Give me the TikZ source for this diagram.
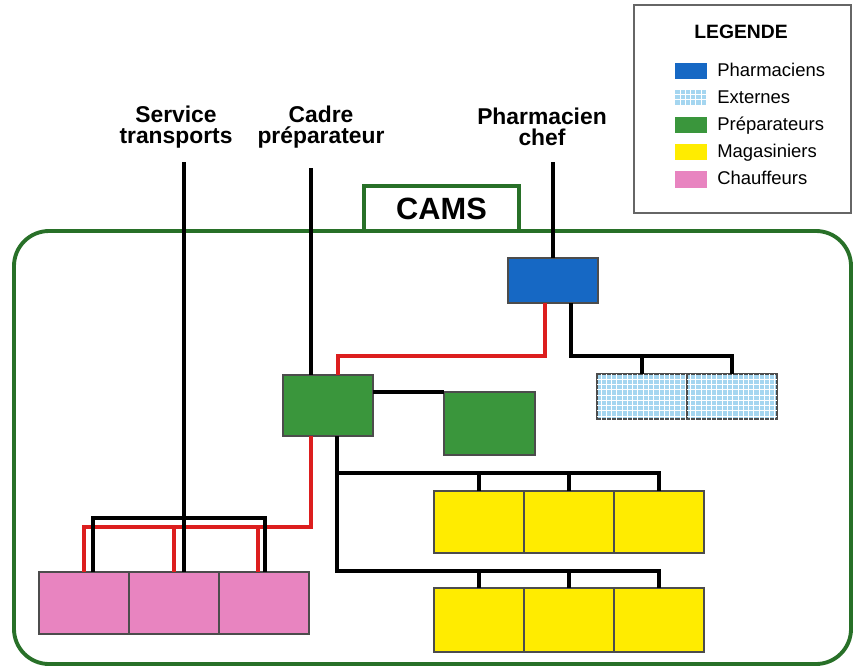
\documentclass[tikz,border=0pt]{standalone}
\usepackage{fontspec}
\setmainfont{Liberation Sans}
\usetikzlibrary{positioning,calc,patterns}
\definecolor{pharmablue}{RGB}{22,104,196}
\definecolor{externblue}{RGB}{165,214,240}
\definecolor{prepgreen}{RGB}{58,150,60}
\definecolor{magyellow}{RGB}{255,236,0}
\definecolor{chaufpink}{RGB}{232,132,192}
\definecolor{linkred}{RGB}{220,30,30}
\definecolor{framegreen}{RGB}{40,112,40}

\begin{document}
\begin{tikzpicture}[
    x=0.02cm, y=-0.02cm,
    cell/.style={rectangle, draw=black!70, line width=0.7pt, outer sep=0pt,
        inner sep=0pt, minimum width=1.8cm, minimum height=1.24cm},
    pharma/.style={cell, fill=pharmablue, minimum height=0.9cm},
    externe/.style={cell, fill=externblue, minimum height=0.9cm,
        postaction={pattern=grid, pattern color=white}},
    prep/.style={cell, fill=prepgreen},
    mag/.style={cell, fill=magyellow},
    chauf/.style={cell, fill=chaufpink},
    head/.style={font=\bfseries\fontsize{13}{12}\selectfont, align=center},
    link/.style={line width=2pt, black},
    redlink/.style={line width=2pt, linkred},
    swatch/.style={minimum width=0.64cm, minimum height=0.34cm,
        inner sep=0pt, outer sep=0pt},
    legtext/.style={font=\fontsize{10.5}{12}\selectfont, anchor=mid west,
        inner sep=0pt}
]
    \useasboundingbox (0,0) rectangle (854,669);

    % CAMS frame
    \draw[framegreen, line width=2.2pt, rounded corners=0.7cm] (14,231) rectangle (851,664);
    \node[draw=framegreen, line width=2.2pt, fill=white, minimum width=3.1cm,
        minimum height=0.9cm, font=\bfseries\fontsize{17.5}{20}\selectfont] (cams) at (441.5,208.5) {CAMS};

    % heads
    \node[head] (service) at (176,127) {Service\\transports};
    \node[head] (cadre) at (321,127) {Cadre\\préparateur};
    \node[head] (chefhead) at (542,127) {Pharmacien\\chef};
    \coordinate (serviceTop) at (184,162);
    \coordinate (cadreTop) at (311,168);
    \coordinate (pharmaTop) at (553,162);

    % legend
    \node[draw=black!60, line width=0.8pt, minimum width=4.34cm, minimum height=4.16cm] (legend) at (742.5,109) {};
    \node[font=\bfseries\fontsize{11}{13}\selectfont] (legtitle) at (741,32) {LEGENDE};
    \node[swatch, fill=pharmablue] (swPharma) at (691,71) {};
    \node[swatch, fill=externblue, postaction={pattern=grid, pattern color=white}] (swExterne) at (691,98) {};
    \node[swatch, fill=prepgreen] (swPrep) at (691,125) {};
    \node[swatch, fill=magyellow] (swMag) at (691,152) {};
    \node[swatch, fill=chaufpink] (swChauf) at (691,179) {};
    \node[legtext] at (717,72) {Pharmaciens};
    \node[legtext] at (717,99) {Externes};
    \node[legtext] at (717,126) {Préparateurs};
    \node[legtext] at (717,153) {Magasiniers};
    \node[legtext] at (717,180) {Chauffeurs};

    % boxes
    \node[pharma] (chef) at (553,280.5) {};
    \node[externe] (ext1) at (642,396.5) {};
    \node[externe, right=0pt of ext1] (ext2) {};
    \node[prep, minimum height=1.22cm] (prep1) at (328,405.5) {};
    \node[prep, minimum width=1.82cm, minimum height=1.26cm] (prep2) at (489.5,423.5) {};
    \node[mag] (mag1) at (479,522) {};
    \node[mag, right=0pt of mag1] (mag2) {};
    \node[mag, right=0pt of mag2] (mag3) {};
    \node[mag, minimum height=1.28cm] (mag4) at (479,620) {};
    \node[mag, minimum height=1.28cm, right=0pt of mag4] (mag5) {};
    \node[mag, minimum height=1.28cm, right=0pt of mag5] (mag6) {};
    \node[chauf] (chauf1) at (84,603) {};
    \node[chauf, right=0pt of chauf1] (chauf2) {};
    \node[chauf, right=0pt of chauf2] (chauf3) {};

    % red links
    \draw[redlink] ([xshift=-0.16cm]chef.south) -- ++(0,53) -| ([xshift=0.2cm]prep1.north);
    \draw[redlink] (cadreTop |- prep1.south) -- ++(0,91) -| (chauf1.north);
    \draw[redlink] (chauf2.north) -- ++(0,-45);
    \draw[redlink] ([xshift=-0.12cm]chauf3.north) -- ++(0,-45);

    % black links
    \draw[link] (pharmaTop) -- (chef.north);
    \draw[link] (cadreTop) -- (cadreTop |- prep1.north);
    \draw[link] (serviceTop) -- (serviceTop |- chauf2.north);
    \draw[link] ([xshift=0.36cm]chef.south) -- ++(0,53) -| (ext2.north);
    \draw[link] (ext1.north) -- ++(0,-18);
    \draw[link] (prep1.east |- prep2.north) -- (prep2.north west);
    \coordinate (prepOut) at ([xshift=0.18cm]prep1.south);
    \draw[link] (prepOut) -- ++(0,135) -| (mag6.north);
    \draw[link] ($(prepOut)+(0,37)$) -| (mag3.north);
    \draw[link] (mag1.north) -- ++(0,-18);
    \draw[link] (mag2.north) -- ++(0,-18);
    \draw[link] (mag4.north) -- ++(0,-17);
    \draw[link] (mag5.north) -- ++(0,-17);
    \draw[link] ([xshift=0.18cm]chauf1.north) -- ++(0,-54) -| ([xshift=0.02cm]chauf3.north);
\end{tikzpicture}
\end{document}
